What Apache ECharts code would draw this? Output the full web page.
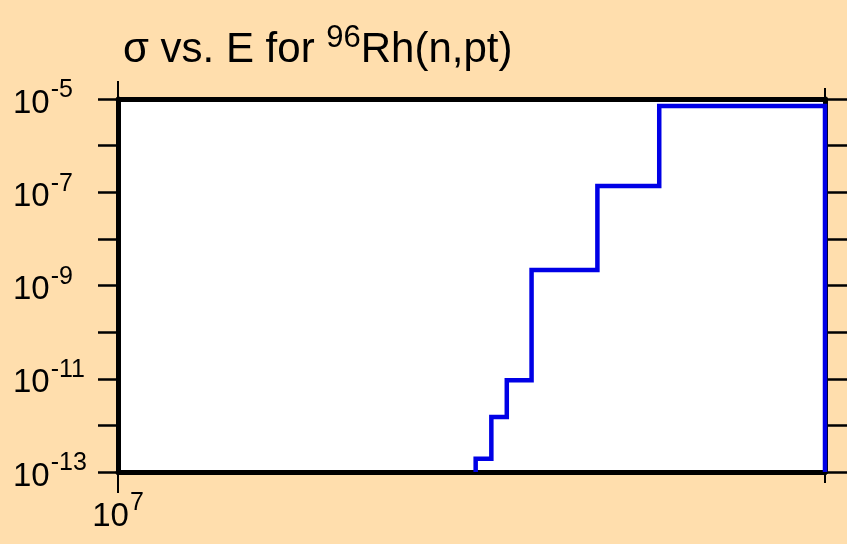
<!DOCTYPE html>
<html>
<head>
<meta charset="utf-8">
<script src="https://cdn.jsdelivr.net/npm/echarts@6/dist/echarts.min.js"></script>
<style>
html,body{margin:0;padding:0;background:#FFDEAD;}
#chart{width:847px;height:544px;}
</style>
</head>
<body>
<div id="chart"></div>
<script>
// ---- data ----
const titleMain = 'σ vs. E for ';
const titleIsotope = '96';
const titleRest = 'Rh(n,pt)';
// bin edges (eV) of the step curve
const energyEdges = [1.42e7, 1.442e7, 1.464e7, 1.5e7, 1.6e7, 1.7e7, 2.0e7];
// cross-section value in each bin (between consecutive edges)
const sigmaValues = [1.92e-13, 1.52e-12, 9.33e-12, 2.16e-9, 1.36e-7, 7.08e-6];
const xMin = 1e7, xMax = 2e7;
const yMin = 1e-13, yMax = 1e-5;
const xMajorTicks = [1e7];
const xMinorTicks = [2e7];
const xLabelExponents = [7];
const yLabelExponents = [-13, -11, -9, -7, -5];

// build the staircase from the arrays
const stepData = [[energyEdges[0], yMin]];
for (let i = 0; i < sigmaValues.length; i++) {
  stepData.push([energyEdges[i], sigmaValues[i]]);
  stepData.push([energyEdges[i + 1], sigmaValues[i]]);
}
stepData.push([energyEdges[energyEdges.length - 1], yMin]);

const FONT = 'Liberation Sans, Arial, sans-serif';
function expOf(v) { return Math.round(Math.log10(v)); }
const labelRich = {
  b: { fontSize: 33, fontFamily: FONT, color: '#000', lineHeight: 42, verticalAlign: 'bottom' },
  s: { fontSize: 25, fontFamily: FONT, color: '#000', lineHeight: 42, verticalAlign: 'top', padding: [0, 0, 2, 1] }
};

const chart = echarts.init(document.getElementById('chart'), null, {renderer: 'canvas'});
const black = '#000';
const option = {
  backgroundColor: '#FFDEAD',
  animation: false,
  title: {
    text: titleMain + '{s|' + titleIsotope + '}' + titleRest,
    left: 118, top: 18,
    textStyle: {
      fontSize: 42, fontFamily: FONT, fontWeight: 'normal', color: black, lineHeight: 54,
      rich: {
        s: { fontSize: 31, fontFamily: FONT, color: black, lineHeight: 54, verticalAlign: 'top', padding: [0, 0, 4, 0] }
      }
    }
  },
  grid: { left: 118, right: 22, top: 99, bottom: 72, show: true, backgroundColor: '#fff', borderWidth: 0 },
  xAxis: [
    {
      type: 'log', logBase: 10, min: xMin, max: xMax, position: 'bottom',
      axisLine: { show: true, lineStyle: { color: black, width: 5 } },
      axisTick: { show: true, customValues: xMajorTicks, length: 21, lineStyle: { color: black, width: 2 } },
      axisLabel: {
        customValues: xMajorTicks, margin: 19,
        formatter: v => xLabelExponents.includes(expOf(v)) ? '{b|10}{s|' + expOf(v) + '}' : '',
        rich: labelRich
      },
      splitLine: { show: false }
    },
    {
      type: 'log', logBase: 10, min: xMin, max: xMax, position: 'bottom',
      axisLine: { show: false },
      axisTick: { show: true, customValues: xMinorTicks, length: 11, lineStyle: { color: black, width: 2 } },
      axisLabel: { show: false }, splitLine: { show: false }
    },
    {
      type: 'log', logBase: 10, min: xMin, max: xMax, position: 'top',
      axisLine: { show: true, lineStyle: { color: black, width: 5 } },
      axisTick: { show: true, customValues: xMajorTicks, length: 18, lineStyle: { color: black, width: 2 } },
      axisLabel: { show: false }, splitLine: { show: false }
    },
    {
      type: 'log', logBase: 10, min: xMin, max: xMax, position: 'top',
      axisLine: { show: false },
      axisTick: { show: true, customValues: xMinorTicks, length: 11, lineStyle: { color: black, width: 2 } },
      axisLabel: { show: false }, splitLine: { show: false }
    }
  ],
  yAxis: [
    {
      type: 'log', logBase: 10, min: yMin, max: yMax, position: 'left',
      axisLine: { show: true, lineStyle: { color: black, width: 5 } },
      axisTick: { show: true, length: 20, lineStyle: { color: black, width: 2.5 } },
      axisLabel: {
        align: 'left', margin: 105, showMinLabel: true, showMaxLabel: true,
        formatter: v => yLabelExponents.includes(expOf(v)) ? '{b|10}{s|' + expOf(v) + '}' : '',
        rich: labelRich
      },
      splitLine: { show: false }
    },
    {
      type: 'log', logBase: 10, min: yMin, max: yMax, position: 'right',
      axisLine: { show: true, lineStyle: { color: black, width: 5 } },
      axisTick: { show: true, length: 22, lineStyle: { color: black, width: 2.5 } },
      axisLabel: { show: false },
      splitLine: { show: false }
    }
  ],
  series: [{
    type: 'line',
    xAxisIndex: 0, yAxisIndex: 0,
    data: stepData,
    showSymbol: false, symbol: 'none',
    clip: false,
    lineStyle: { color: '#0000e6', width: 4.5, join: 'miter' },
    z: 1
  }]
};
chart.setOption(option);
</script>
</body>
</html>
